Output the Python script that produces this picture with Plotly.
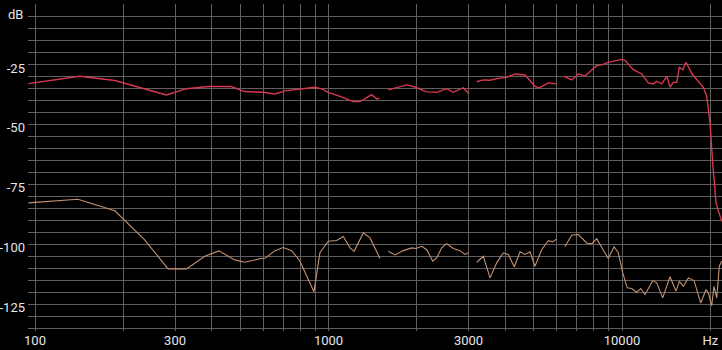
import plotly.graph_objects as go

# Frequency (Hz) / level (dB) for the upper (red) curve; None marks a gap
freq_top = [95, 142, 187, 280, 328, 389, 466, 518, 598, 657, 711, 800, 899, 948, 998,
            1094, 1215, 1280, 1404, 1460, 1490, 1545, 1599, 1847, 1971, 2161, 2337, 2527,
            2662, 2879, 2995, 3090, 3198, 3369, 3551, 3789, 4048, 4319, 4672, 5052, 5226,
            5610, 5992, 6170, 6345, 6741, 7099, 7480, 8201, 8528, 8980, 9977, 10238, 10926,
            11669, 12291, 12785, 13131, 13656, 14202, 14575, 14959, 15364, 15680, 16104,
            16527, 17283, 18197, 18923, 19437, 19946, 20370, 20907, 21862]
db_top = [-32.8, -29.75, -31.5, -37.5, -34.9, -34.0, -34.0, -36.1, -36.4, -37.1, -35.8,
          -35.0, -34.3, -35.0, -36.4, -38.1, -40.3, -40.3, -37.4, -39.2, -38.9, None,
          -35.4, -33.3, -34.2, -36.25, -36.4, -34.9, -36.4, -34.5, -36.7, None, -32.0,
          -31.25, -31.4, -30.6, -30.2, -28.75, -29.2, -33.9, -34.6, -32.5, -32.9, None,
          -29.75, -31.25, -28.75, -29.6, -25.3, -25.0, -23.9, -22.7, -23.1, -27.0, -28.75,
          -32.5, -32.9, -31.8, -32.9, -29.75, -34.2, -32.25, -32.25, -26.0, -27.0, -23.9,
          -28.6, -31.8, -34.3, -38.1, -49.2, -65.8, -82.5, -90.2]

# Lower (tan) curve
freq_bot = [95, 140, 187, 236, 284, 328, 379, 423, 479, 518, 590, 608, 657, 701, 749, 800,
            854, 892, 935, 998, 1066, 1123, 1184, 1222, 1314, 1385, 1498, 1545, 1599, 1685,
            1798, 1921, 1987, 2078, 2161, 2265, 2337, 2430, 2527, 2662, 2805, 2918, 2995,
            3090, 3198, 3369, 3551, 3742, 3940, 4100, 4296, 4492, 4672, 4860, 5052, 5326,
            5610, 5806, 5992, 6170, 6380, 6741, 7099, 7581, 7884, 8201, 8637, 8980, 9392,
            9714, 10055, 10425, 10790, 11222, 11580, 11978, 12728, 13131, 13763, 14575,
            15276, 15680, 16180, 16826, 17595, 18541, 19329, 19681, 20213, 20584, 21024,
            21456, 21862]
db_bot = [-82.5, -81.0, -85.8, -97.8, -110.0, -110.0, -104.75, -102.5, -106.25, -107.25,
          -105.7, -105.6, -102.4, -101.1, -102.4, -106.8, -114.5, -119.5, -103.3, -98.5,
          -98.2, -96.5, -101.25, -102.7, -95.0, -97.1, -105.7, None, -102.7, -104.2, -102.4,
          -101.25, -101.5, -100.6, -102.0, -106.8, -105.4, -101.25, -99.5, -101.5, -102.4,
          -104.0, -103.3, None, -107.25, -104.75, -113.75, -107.5, -103.3, -104.0, -109.2,
          -102.9, -104.0, -102.9, -108.9, -102.0, -98.2, -98.75, -97.5, None, -100.8, -96.0,
          -95.7, -99.2, -99.6, -97.4, -102.25, -105.7, -100.8, -103.3, -111.7, -117.9,
          -118.2, -119.75, -118.2, -120.7, -114.9, -115.8, -122.1, -113.3, -119.3, -115.2,
          -117.25, -113.75, -114.9, -124.2, -118.6, -120.0, -125.3, -117.25, -122.1, -108.9,
          -106.8]

x_grid = [100, 200, 300, 400, 500, 600, 700, 800, 900,
          1000, 2000, 3000, 4000, 5000, 6000, 7000, 8000, 9000, 10000, 20000]
x_labels = {100: "100", 300: "300", 1000: "1000", 3000: "3000", 10000: "10000", 20000: "Hz"}
y_grid = list(range(0, -140, -5))
y_labels = {-25: "-25", -50: "-50", -75: "-75", -100: "-100", -125: "-125"}

FONT = dict(family="Roboto", size=13, color="#e6e6e6")
GRID = "#606060"

fig = go.Figure()
fig.add_trace(go.Scatter(x=freq_bot, y=db_bot, mode="lines", connectgaps=False,
                         line=dict(color="#c39272", width=1.1), hoverinfo="skip"))
fig.add_trace(go.Scatter(x=freq_top, y=db_top, mode="lines", connectgaps=False,
                         line=dict(color="#d8384e", width=1.4), hoverinfo="skip"))

fig.update_layout(
    width=722, height=350,
    margin=dict(l=28, r=0, t=4, b=19),
    paper_bgcolor="black", plot_bgcolor="black",
    showlegend=False,
    font=FONT,
    xaxis=dict(type="log", range=[1.9761, 4.3407],
               tickmode="array", tickvals=x_grid,
               ticktext=[x_labels.get(v, "") for v in x_grid],
               showgrid=True, gridcolor=GRID, gridwidth=1,
               zeroline=False, showline=False, ticks="",
               tickfont=FONT, fixedrange=True),
    yaxis=dict(range=[-135.9, 0.4],
               tickmode="array", tickvals=y_grid,
               ticktext=[y_labels.get(v, "") for v in y_grid],
               showgrid=True, gridcolor=GRID, gridwidth=1,
               zeroline=False, showline=False, ticks="",
               ticklabelstandoff=2, ticklabelshift=3,
               tickfont=FONT, fixedrange=True),
)
fig.add_annotation(text="dB", xref="paper", yref="paper", x=0, y=1,
                   xanchor="right", yanchor="top", xshift=-3, yshift=-1,
                   showarrow=False, font=FONT)

fig.write_html("out.html", config={"displayModeBar": False})
